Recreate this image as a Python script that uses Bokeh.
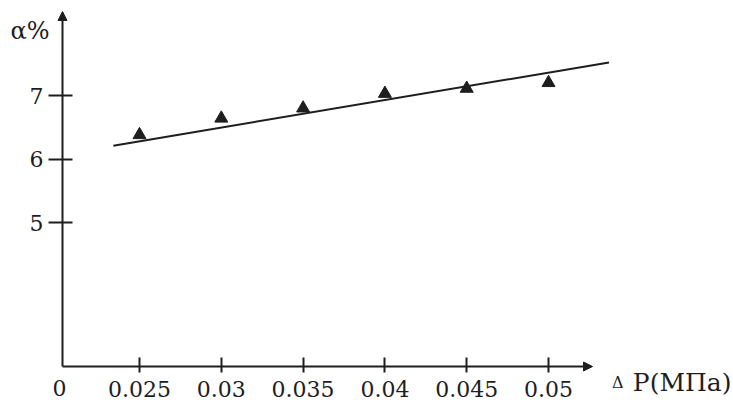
from bokeh.plotting import figure
from bokeh.models import Range1d, FixedTicker, Arrow, NormalHead, Label
from bokeh.embed import file_html
from bokeh.resources import INLINE

# ---- data ----
dp_ticks = [0.025, 0.03, 0.035, 0.04, 0.045, 0.05]
dp_tick_labels = ["0.025", "0.03", "0.035", "0.04", "0.045", "0.05"]
alpha_ticks = [5, 6, 7]
dp = [0.025, 0.03, 0.035, 0.04, 0.045, 0.05]
alpha = [6.38, 6.64, 6.80, 7.03, 7.11, 7.20]
fit_dp = [0.0234, 0.0537]
fit_alpha = [6.21, 7.52]

# ---- layout: canvas extents expressed in data units ----
W, H = 733, 403
PX_X = 0.005 / 81.8      # data units of dP per pixel
PX_Y = 1 / 63.5          # data units of alpha per pixel
X_LEFT = 0.025 - 139 * PX_X
Y_TOP = 7 + 95 * PX_Y


def dx(px):
    return X_LEFT + px * PX_X


def dy(py):
    return Y_TOP - py * PX_Y


AX_X = dx(62)      # where the vertical axis sits
AX_Y = dy(366)     # where the horizontal axis sits
X_TIP = dx(592)
Y_TIP = dy(11)

INK = "#1e1e1e"
FONT = "DejaVu Serif"

p = figure(width=W, height=H, output_backend="svg", toolbar_location=None,
           x_range=Range1d(dx(0), dx(W)), y_range=Range1d(dy(H), dy(0)),
           min_border=0)
p.outline_line_color = None
p.grid.visible = False
p.background_fill_color = "white"
p.border_fill_color = "white"

# x axis
xa = p.xaxis[0]
xa.fixed_location = AX_Y
xa.ticker = FixedTicker(ticks=dp_ticks)
xa.major_label_overrides = {t: l for t, l in zip(dp_ticks, dp_tick_labels)}
xa.axis_line_color = None
xa.major_tick_in = 9
xa.major_tick_out = 6
xa.major_tick_line_width = 2
xa.major_tick_line_color = INK
xa.minor_tick_line_color = None
xa.major_label_text_font = FONT
xa.major_label_text_font_size = "22px"
xa.major_label_text_color = INK
xa.major_label_standoff = 8

# y axis
ya = p.yaxis[0]
ya.fixed_location = AX_X
ya.ticker = FixedTicker(ticks=alpha_ticks)
ya.axis_line_color = None
ya.major_tick_in = 10
ya.major_tick_out = 14
ya.major_tick_line_width = 2
ya.major_tick_line_color = INK
ya.minor_tick_line_color = None
ya.major_label_text_font = FONT
ya.major_label_text_font_size = "22px"
ya.major_label_text_color = INK
ya.major_label_standoff = 5

# axis lines with arrow heads
p.add_layout(Arrow(end=NormalHead(size=9, fill_color=INK, line_color=INK),
                   x_start=AX_X, y_start=AX_Y, x_end=AX_X, y_end=Y_TIP,
                   line_color=INK, line_width=2))
p.add_layout(Arrow(end=NormalHead(size=9, fill_color=INK, line_color=INK),
                   x_start=AX_X, y_start=AX_Y, x_end=X_TIP, y_end=AX_Y,
                   line_color=INK, line_width=2))

# fitted line and measured points
p.line(fit_dp, fit_alpha, line_color=INK, line_width=2)
p.scatter(dp, alpha, marker="triangle", size=13, fill_color=INK, line_color=INK)

# texts
p.add_layout(Label(x=dx(10), y=dy(30), text="α%", text_font=FONT,
                   text_font_size="24px", text_color=INK, text_align="left",
                   text_baseline="alphabetic"))
p.add_layout(Label(x=dx(59), y=dy(387), text="0", text_font=FONT,
                   text_font_size="22px", text_color=INK, text_align="center",
                   text_baseline="alphabetic"))
p.add_layout(Label(x=dx(731), y=dy(382), text="P(МПа)", text_font=FONT,
                   text_font_size="25px", text_color=INK, text_align="right",
                   text_baseline="alphabetic"))
p.add_layout(Label(x=dx(623), y=dy(382), text="Δ", text_font=FONT,
                   text_font_size="16px", text_color=INK, text_align="right",
                   text_baseline="alphabetic"))

open("out.html", "w").write(file_html(p, INLINE))
